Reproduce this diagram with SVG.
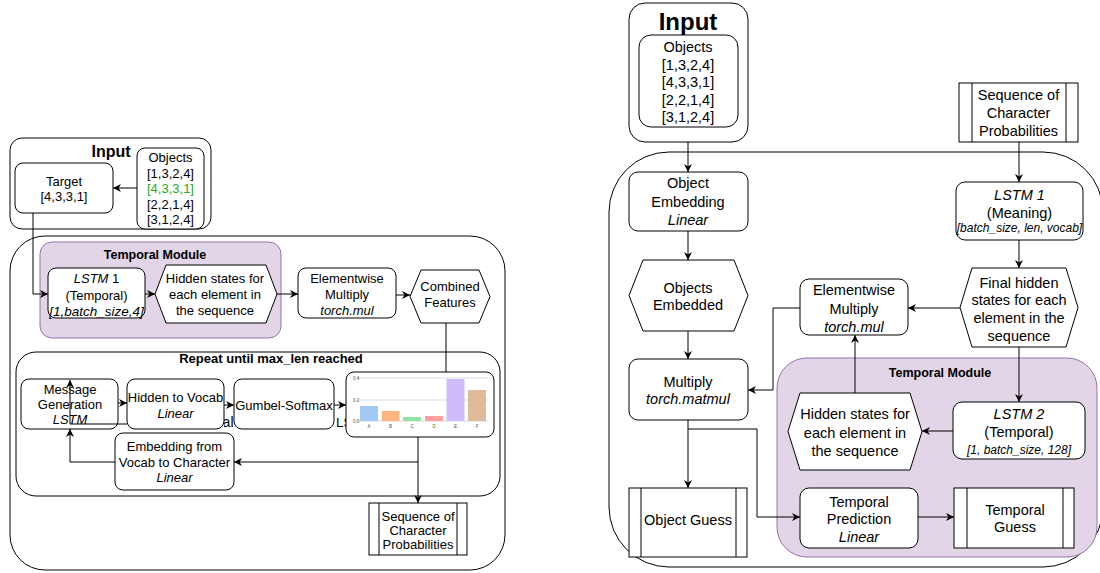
<svg xmlns="http://www.w3.org/2000/svg" width="1100" height="573" viewBox="0 0 1100 573">
<defs>
<marker id="arr" viewBox="0 0 10 10" refX="10" refY="5" markerWidth="8" markerHeight="8" markerUnits="userSpaceOnUse" orient="auto">
<path d="M0,0 L10,5 L0,10 L3,5 z" fill="#000"/>
</marker>
<clipPath id="clipLS"><rect x="330" y="400" width="16" height="40"/></clipPath>
<clipPath id="clipAL"><rect x="224" y="400" width="10" height="40"/></clipPath>
<style>
.cont{fill:none;stroke:#000;stroke-width:1}
.box{fill:#fff;stroke:#000;stroke-width:1}
.purple{fill:#e1d5e7;stroke:#9673a6;stroke-width:1}
.ln{fill:none;stroke:#000;stroke-width:1}
.edge{fill:none;stroke:#000;stroke-width:1;marker-end:url(#arr)}
text{font-family:"Liberation Sans",Arial,sans-serif;text-anchor:middle;dominant-baseline:central;fill:#000}
.s13{font-size:13px}
.s14{font-size:14.5px}
.it{font-style:italic}
.b{font-weight:bold}
.grid{stroke:#e6e6e6;stroke-width:1.5}
.tick{font-size:4.5px;fill:#555}
.ytick{font-size:4.5px;fill:#555;text-anchor:start}
</style>
</defs>

<!-- LEFT DIAGRAM -->
<g id="left-input">
<rect class="cont" x="10" y="138" width="201" height="91" rx="12"/>
<text class="b" x="111" y="151" style="font-size:16px">Input</text>
</g>
<g id="left-outer"><rect class="cont" x="10" y="236" width="495" height="334" rx="35"/></g>
<g id="left-temporal-module">
<rect class="purple" x="40" y="242" width="241" height="96" rx="12"/>
<text class="b" x="155" y="255" style="font-size:12.5px">Temporal Module</text>
</g>
<g id="left-repeat">
<rect class="cont" x="16" y="352" width="484" height="144" rx="20"/>
<text class="b s13" x="271" y="358">Repeat until max_len reached</text>
</g>
<g id="hidden-labels">
<text x="233.5" y="422" clip-path="url(#clipAL)" style="font-size:14px;text-anchor:end">al</text>
<text x="336" y="422" clip-path="url(#clipLS)" style="font-size:13.5px;text-anchor:start">LS</text>
</g>

<g id="left-target">
<rect class="box" x="15" y="163" width="98" height="50" rx="8"/>
<text class="s13" x="64" y="181">Target</text>
<text class="s13" x="64" y="196">[4,3,3,1]</text>
</g>
<g id="left-objects">
<rect class="box" x="137" y="148" width="67" height="81" rx="8"/>
<text class="s13" x="170.5" y="157.5">Objects</text>
<text class="s13" x="170.5" y="173">[1,3,2,4]</text>
<text class="s13" x="170.5" y="188.5" style="fill:#22aa22">[4,3,3,1]</text>
<text class="s13" x="170.5" y="204">[2,2,1,4]</text>
<text class="s13" x="170.5" y="219">[3,1,2,4]</text>
</g>
<g id="left-lstm1">
<rect class="box" x="48" y="268" width="97" height="50" rx="8"/>
<text class="s13" x="96.5" y="278"><tspan class="it">LSTM</tspan> 1</text>
<text class="s13" x="96.5" y="295">(Temporal)</text>
<text class="it" x="96.5" y="311" style="font-size:13.5px">[1,batch_size,4]</text>
</g>
<g id="left-hidden-states">
<polygon class="box" points="155,294 166,265 266,265 277,294 266,323 166,323"/>
<text class="s13" x="215" y="278">Hidden states for</text>
<text class="s13" x="215" y="294">each element in</text>
<text class="s13" x="215" y="310">the sequence</text>
</g>
<g id="left-elementwise">
<rect class="box" x="298" y="268" width="98" height="50" rx="8"/>
<text class="s13" x="347" y="278">Elementwise</text>
<text class="s13" x="347" y="294">Multiply</text>
<text class="s13 it" x="347" y="310">torch.mul</text>
</g>
<g id="left-combined">
<polygon class="box" points="410,296.5 421,270 479,270 490,296.5 479,323 421,323"/>
<text class="s13" x="450" y="286">Combined</text>
<text class="s13" x="450" y="302">Features</text>
</g>
<g id="left-message-gen">
<rect class="box" x="21" y="379" width="97" height="50" rx="8"/>
<text class="s13" x="70" y="389">Message</text>
<text class="s13" x="70" y="404">Generation</text>
<text class="s13 it" x="70" y="419">LSTM</text>
</g>
<g id="left-hidden-vocab">
<rect class="box" x="127" y="379" width="97" height="50" rx="8"/>
<text class="s13" x="175.5" y="397">Hidden to Vocab</text>
<text class="s13 it" x="175.5" y="413">Linear</text>
</g>
<g id="left-gumbel">
<rect class="box" x="234" y="379" width="100" height="50" rx="8"/>
<text class="s13" x="284" y="405">Gumbel-Softmax</text>
</g>
<g id="left-embedding">
<rect class="box" x="115" y="433" width="119" height="57" rx="8"/>
<text class="s13" x="174.5" y="446">Embedding from</text>
<text class="s13" x="174.5" y="462">Vocab to Character</text>
<text class="s13 it" x="174.5" y="477">Linear</text>
</g>
<g id="left-barchart">
<rect class="box" x="346" y="372" width="148" height="65" rx="8"/>
<line class="grid" x1="357" y1="378" x2="488" y2="378"/>
<line class="grid" x1="357" y1="400" x2="488" y2="400"/>
<line class="grid" x1="357" y1="421" x2="488" y2="421"/>
<text class="ytick" x="353" y="378">0.4</text>
<text class="ytick" x="353" y="400">0.2</text>
<text class="ytick" x="353" y="421">0.0</text>
<rect x="360" y="406" width="18" height="15" fill="#a1c9f4"/>
<rect x="382" y="411" width="17.5" height="10" fill="#ffb482"/>
<rect x="403" y="417" width="18" height="4" fill="#8de5a1"/>
<rect x="425" y="416" width="18" height="5" fill="#ff9f9b"/>
<rect x="446.5" y="379" width="18" height="42" fill="#d0bbff"/>
<rect x="468" y="390" width="18" height="31" fill="#debb9b"/>
<text class="tick" x="369" y="426">A</text>
<text class="tick" x="390.5" y="426">B</text>
<text class="tick" x="412" y="426">C</text>
<text class="tick" x="434" y="426">D</text>
<text class="tick" x="455.5" y="426">E</text>
<text class="tick" x="477" y="426">F</text>
</g>
<g id="left-sequence">
<rect class="box" x="369" y="503" width="98" height="52"/>
<line class="ln" x1="379" y1="503" x2="379" y2="555"/>
<line class="ln" x1="457" y1="503" x2="457" y2="555"/>
<text class="s13" x="418" y="516">Sequence of</text>
<text class="s13" x="418" y="530">Character</text>
<text class="s13" x="418" y="544">Probabilities</text>
</g>

<!-- RIGHT DIAGRAM -->
<g id="right-input">
<rect class="cont" x="629" y="3" width="119" height="139" rx="16"/>
<text class="b" x="688" y="21" style="font-size:24px">Input</text>
</g>
<g id="right-outer"><rect class="cont" x="609" y="152" width="494" height="415" rx="60"/></g>
<g id="right-temporal-module">
<rect class="purple" x="777" y="358" width="320" height="199" rx="30"/>
<text class="b" x="940" y="373" style="font-size:12.5px">Temporal Module</text>
</g>
<g id="right-objects">
<rect class="box" x="639" y="35" width="99" height="92" rx="12"/>
<text class="s14" x="688" y="47">Objects</text>
<text class="s14" x="688" y="64.5">[1,3,2,4]</text>
<text class="s14" x="688" y="82">[4,3,3,1]</text>
<text class="s14" x="688" y="99.5">[2,2,1,4]</text>
<text class="s14" x="688" y="117">[3,1,2,4]</text>
</g>
<g id="right-sequence">
<rect class="box" x="959" y="83" width="119" height="59"/>
<line class="ln" x1="972" y1="83" x2="972" y2="142"/>
<line class="ln" x1="1066" y1="83" x2="1066" y2="142"/>
<text class="s14" x="1018.5" y="95">Sequence of</text>
<text class="s14" x="1018.5" y="113">Character</text>
<text class="s14" x="1018.5" y="131">Probabilities</text>
</g>
<g id="right-object-embedding">
<rect class="box" x="629" y="172" width="119" height="59" rx="9"/>
<text class="s14" x="688" y="183">Object</text>
<text class="s14" x="688" y="202">Embedding</text>
<text class="s14 it" x="688" y="220">Linear</text>
</g>
<g id="right-objects-embedded">
<polygon class="box" points="629,295.5 643,260 734,260 748,295.5 734,331 643,331"/>
<text class="s14" x="688" y="288">Objects</text>
<text class="s14" x="688" y="305">Embedded</text>
</g>
<g id="right-multiply">
<rect class="box" x="629" y="359" width="119" height="61" rx="9"/>
<text class="s14" x="688" y="382">Multiply</text>
<text class="s14 it" x="688" y="399">torch.matmul</text>
</g>
<g id="right-object-guess">
<rect class="box" x="629" y="488" width="118" height="69"/>
<line class="ln" x1="641" y1="488" x2="641" y2="557"/>
<line class="ln" x1="736" y1="488" x2="736" y2="557"/>
<text class="s14" x="688" y="520">Object Guess</text>
</g>
<g id="right-lstm1">
<rect class="box" x="956" y="182" width="127" height="58" rx="9"/>
<text class="s14 it" x="1019.5" y="195">LSTM 1</text>
<text class="s14" x="1019.5" y="213">(Meaning)</text>
<text class="it" x="1019.5" y="228" style="font-size:12px">[batch_size, len, vocab]</text>
</g>
<g id="right-final-hidden">
<polygon class="box" points="960,307.5 972,268 1066,268 1078,307.5 1066,347 972,347"/>
<text class="s14" x="1019" y="283">Final hidden</text>
<text class="s14" x="1019" y="300">states for each</text>
<text class="s14" x="1019" y="318">element in the</text>
<text class="s14" x="1019" y="336">sequence</text>
</g>
<g id="right-elementwise">
<rect class="box" x="800" y="279" width="108" height="56" rx="9"/>
<text class="s14" x="854" y="290">Elementwise</text>
<text class="s14" x="854" y="309">Multiply</text>
<text class="s14 it" x="854" y="327">torch.mul</text>
</g>
<g id="right-lstm2">
<rect class="box" x="953" y="402" width="132" height="57" rx="9"/>
<text class="s14 it" x="1019" y="414">LSTM 2</text>
<text class="s14" x="1019" y="432">(Temporal)</text>
<text class="it" x="1019" y="450" style="font-size:12px">[1, batch_size, 128]</text>
</g>
<g id="right-hidden-states">
<polygon class="box" points="788,431.5 800,393 910,393 922,431.5 910,470 800,470"/>
<text class="s14" x="855" y="414">Hidden states for</text>
<text class="s14" x="855" y="433">each element in</text>
<text class="s14" x="855" y="451">the sequence</text>
</g>
<g id="right-temporal-prediction">
<rect class="box" x="800" y="488" width="118" height="60" rx="9"/>
<text class="s14" x="859" y="502">Temporal</text>
<text class="s14" x="859" y="519">Prediction</text>
<text class="s14 it" x="859" y="537">Linear</text>
</g>
<g id="right-temporal-guess">
<rect class="box" x="954" y="488" width="120" height="60"/>
<line class="ln" x1="967" y1="488" x2="967" y2="548"/>
<line class="ln" x1="1063" y1="488" x2="1063" y2="548"/>
<text class="s14" x="1015" y="510">Temporal</text>
<text class="s14" x="1015" y="527">Guess</text>
</g>

<g id="connectors">
<path class="edge" d="M137 188 H113"/>
<path class="edge" d="M33 213 V294 H48"/>
<path class="edge" d="M145 294 H155"/>
<path class="edge" d="M277 294 H298"/>
<path class="edge" d="M396 295 H410"/>
<path class="ln" d="M446 323 V372"/>
<path class="edge" d="M118 403 H127"/>
<path class="edge" d="M224 405 H234"/>
<path class="edge" d="M334 405 H346"/>
<path class="edge" d="M418 437 V503"/>
<path class="edge" d="M418 462 H234"/>
<path class="edge" d="M115 462 H70 V429"/>
<path class="edge" d="M127 424 H70 V380"/>

<path class="edge" d="M688 142 V172"/>
<path class="edge" d="M688 231 V260"/>
<path class="edge" d="M688 331 V359"/>
<path class="edge" d="M688 420 V488"/>
<path class="edge" d="M688 429 H757 V517 H800"/>
<path class="edge" d="M1019 142 V182"/>
<path class="edge" d="M1019 240 V268"/>
<path class="edge" d="M960 308 H908"/>
<path class="edge" d="M800 308 H773 V390 H748"/>
<path class="edge" d="M1019 347 V402"/>
<path class="edge" d="M953 431 H922"/>
<path class="edge" d="M855 393 V335"/>
<path class="edge" d="M918 517 H954"/>
</g>
</svg>
